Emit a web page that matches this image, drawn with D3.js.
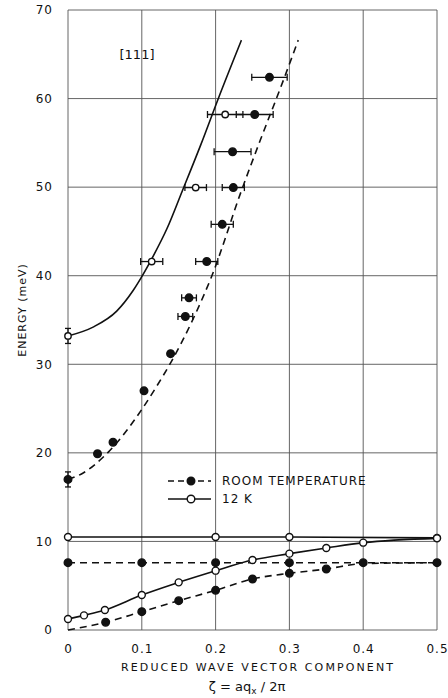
<!DOCTYPE html>
<html><head><meta charset="utf-8">
<script src="https://cdn.jsdelivr.net/npm/d3@7"></script>
<style>
body{margin:0;background:#fff;}
svg{display:block;font-family:"DejaVu Sans",sans-serif;}
</style></head><body>
<svg id="c" width="448" height="698"></svg>
<script>
// ---------- data ----------
const xTicks = [0, 0.1, 0.2, 0.3, 0.4, 0.5];
const xTickLabels = ["0", "0.1", "0.2", "0.3", "0.4", "0.5"];
const yTicks = [0, 10, 20, 30, 40, 50, 60, 70];

// room temperature, upper branch (filled)
const rtUpX   = [0, 0.040, 0.061, 0.103, 0.139, 0.159, 0.164, 0.188, 0.209, 0.224, 0.223, 0.253, 0.273];
const rtUpE   = [17.0, 19.9, 21.2, 27.0, 31.2, 35.4, 37.5, 41.6, 45.8, 49.95, 54.0, 58.2, 62.4];
const rtUpXerr= [0, 0, 0, 0, 0, 0.010, 0.010, 0.015, 0.015, 0.015, 0.025, 0.025, 0.024];
const rtUpEerr= [0.85, 0, 0, 0, 0, 0, 0, 0, 0, 0, 0, 0, 0];

// 12 K, upper branch (open)
const lkUpX   = [0, 0.1134, 0.173, 0.213];
const lkUpE   = [33.2, 41.6, 49.95, 58.2];
const lkUpXerr= [0, 0.015, 0.0146, 0.024];
const lkUpEerr= [0.85, 0, 0, 0];

// fitted curves, upper branch
const rtFitX = [0, 0.02, 0.05, 0.1, 0.12, 0.14, 0.17, 0.195, 0.235, 0.261, 0.287, 0.312];
const rtFitE = [17.0, 17.7, 19.7, 24.9, 27.5, 30.3, 35.2, 40.0, 49.6, 55.4, 61.0, 66.6];
const lkFitX = [0, 0.034, 0.066, 0.088, 0.1, 0.116, 0.134, 0.155, 0.18, 0.205, 0.235];
const lkFitE = [33.2, 34.2, 36.0, 38.3, 39.9, 42.3, 45.3, 49.6, 54.8, 60.3, 66.6];

// flat branches
const rtFlatX = [0, 0.1, 0.2, 0.3, 0.4, 0.5];
const rtFlatE = [7.6, 7.6, 7.6, 7.6, 7.6, 7.6];
const lkFlatX = [0, 0.2, 0.3, 0.5];
const lkFlatE = [10.5, 10.5, 10.5, 10.4];

// lower rising branches
const rtLowX = [0.051, 0.1, 0.15, 0.2, 0.25, 0.3, 0.35];
const rtLowE = [0.87, 2.07, 3.31, 4.48, 5.76, 6.4, 6.89];
const rtLowLineX = [0, 0.051, 0.1, 0.15, 0.2, 0.25, 0.3, 0.35, 0.4, 0.5];
const rtLowLineE = [0, 0.87, 2.07, 3.31, 4.48, 5.76, 6.4, 6.89, 7.5, 7.6];
const lkLowX = [0, 0.0217, 0.05, 0.1, 0.15, 0.2, 0.25, 0.3, 0.35, 0.4, 0.5];
const lkLowE = [1.24, 1.65, 2.26, 3.95, 5.38, 6.7, 7.9, 8.62, 9.26, 9.86, 10.35];

const legendLabels = ["ROOM TEMPERATURE", "12 K"];

// ---------- drawing ----------
const svg = d3.select("#c");
const x = d3.scaleLinear().domain([0, 0.5]).range([68, 437]);
const y = d3.scaleLinear().domain([0, 70]).range([630, 10]);
const ink = "#111";
const gridCol = "#555";

// grid
const g = svg.append("g");
g.selectAll(".vg").data(xTicks).join("line")
  .attr("x1", d => x(d)).attr("x2", d => x(d)).attr("y1", y(0)).attr("y2", y(70))
  .attr("stroke", gridCol).attr("stroke-width", 0.9);
g.selectAll(".hg").data(yTicks).join("line")
  .attr("x1", x(0)).attr("x2", x(0.5)).attr("y1", d => y(d)).attr("y2", d => y(d))
  .attr("stroke", gridCol).attr("stroke-width", 0.9);

// axes (labels only)
const ya = svg.append("g").attr("transform", `translate(${x(0)},0)`)
  .call(d3.axisLeft(y).tickValues(yTicks).tickSize(0).tickPadding(15).tickFormat(d3.format("d")));
ya.select(".domain").remove();
ya.selectAll("text").attr("font-size", 12).attr("fill", ink).attr("font-family", "DejaVu Sans").attr("letter-spacing", 1);

const xa = svg.append("g").attr("transform", `translate(0,${y(0)})`)
  .call(d3.axisBottom(x).tickValues(xTicks).tickSize(0).tickPadding(14).tickFormat((d, i) => xTickLabels[i]));
xa.select(".domain").remove();
xa.selectAll("text").attr("font-size", 12).attr("fill", ink).attr("font-family", "DejaVu Sans").attr("letter-spacing", 1);

// titles
svg.append("text").attr("x", 257).attr("y", 671).attr("text-anchor", "middle")
  .attr("font-size", 11).attr("fill", ink).attr("textLength", 272).attr("lengthAdjust", "spacing")
  .text("REDUCED WAVE VECTOR COMPONENT");
const zt = svg.append("text").attr("x", 247).attr("y", 691).attr("text-anchor", "middle")
  .attr("font-size", 13).attr("fill", ink);
zt.append("tspan").text("ζ = aq");
zt.append("tspan").attr("font-size", 9).attr("dy", 3).text("x");
zt.append("tspan").attr("dy", -3).text(" / 2π");
svg.append("text").attr("transform", "translate(26,310) rotate(-90)").attr("text-anchor", "middle")
  .attr("font-size", 11).attr("fill", ink).attr("letter-spacing", 1).text("ENERGY (meV)");
svg.append("text").attr("x", 137).attr("y", 59).attr("text-anchor", "middle")
  .attr("font-size", 13).attr("fill", ink).text("[111]");

// lines
const zip = (a, b) => a.map((v, i) => [v, b[i]]);
const dash = "7,5";
function path(data, dashed) {
  const line = d3.line().x(d => x(d[0])).y(d => y(d[1])).curve(d3.curveMonotoneX);
  svg.append("path").datum(data).attr("d", line)
    .attr("fill", "none").attr("stroke", ink).attr("stroke-width", 1.6)
    .attr("stroke-dasharray", dashed ? dash : null);
}
path(zip(rtFitX, rtFitE), true);
path(zip(lkFitX, lkFitE), false);
path(zip(rtFlatX, rtFlatE), true);
path(zip(lkFlatX, lkFlatE), false);
path(zip(rtLowLineX, rtLowLineE), true);
path(zip(lkLowX, lkLowE), false);

// error bars
function errs(xs, es, xe, ee) {
  const eg = svg.append("g").attr("stroke", ink).attr("stroke-width", 1.3).attr("fill", "none");
  xs.forEach((xv, i) => {
    if (xe[i] > 0) {
      const x1 = x(xv - xe[i]), x2 = x(xv + xe[i]), yy = y(es[i]);
      eg.append("line").attr("x1", x1).attr("x2", x2).attr("y1", yy).attr("y2", yy);
      eg.append("line").attr("x1", x1).attr("x2", x1).attr("y1", yy - 3.5).attr("y2", yy + 3.5);
      eg.append("line").attr("x1", x2).attr("x2", x2).attr("y1", yy - 3.5).attr("y2", yy + 3.5);
    }
    if (ee[i] > 0) {
      const y1 = y(es[i] - ee[i]), y2 = y(es[i] + ee[i]), xx = x(xv);
      eg.append("line").attr("x1", xx).attr("x2", xx).attr("y1", y1).attr("y2", y2);
      eg.append("line").attr("x1", xx - 3).attr("x2", xx + 3).attr("y1", y1).attr("y2", y1);
      eg.append("line").attr("x1", xx - 3).attr("x2", xx + 3).attr("y1", y2).attr("y2", y2);
    }
  });
}
errs(rtUpX, rtUpE, rtUpXerr, rtUpEerr);
errs(lkUpX, lkUpE, lkUpXerr, lkUpEerr);

// markers
function dots(xs, es, filled, r) {
  svg.append("g").selectAll("circle").data(zip(xs, es)).join("circle")
    .attr("cx", d => x(d[0])).attr("cy", d => y(d[1])).attr("r", r)
    .attr("fill", filled ? ink : "#fff").attr("stroke", ink).attr("stroke-width", 1.4);
}
dots(rtUpX, rtUpE, true, 3.8);
dots(lkUpX, lkUpE, false, 3.2);
dots(rtFlatX, rtFlatE, true, 3.8);
dots(lkFlatX, lkFlatE, false, 3.5);
dots(rtLowX, rtLowE, true, 3.8);
dots(lkLowX, lkLowE, false, 3.5);

// legend
const lg = svg.append("g");
const ly = [481, 499];
legendLabels.forEach((t, i) => {
  lg.append("line").attr("x1", 168).attr("x2", 211).attr("y1", ly[i]).attr("y2", ly[i])
    .attr("stroke", ink).attr("stroke-width", 1.6).attr("stroke-dasharray", i === 0 ? "6,4" : null);
  lg.append("circle").attr("cx", 191).attr("cy", ly[i]).attr("r", 3.8)
    .attr("fill", i === 0 ? ink : "#fff").attr("stroke", ink).attr("stroke-width", 1.4);
  lg.append("text").attr("x", 222).attr("y", ly[i] + 4).attr("font-size", 12)
    .attr("letter-spacing", 1).attr("fill", ink).text(t);
});
</script>
</body></html>
